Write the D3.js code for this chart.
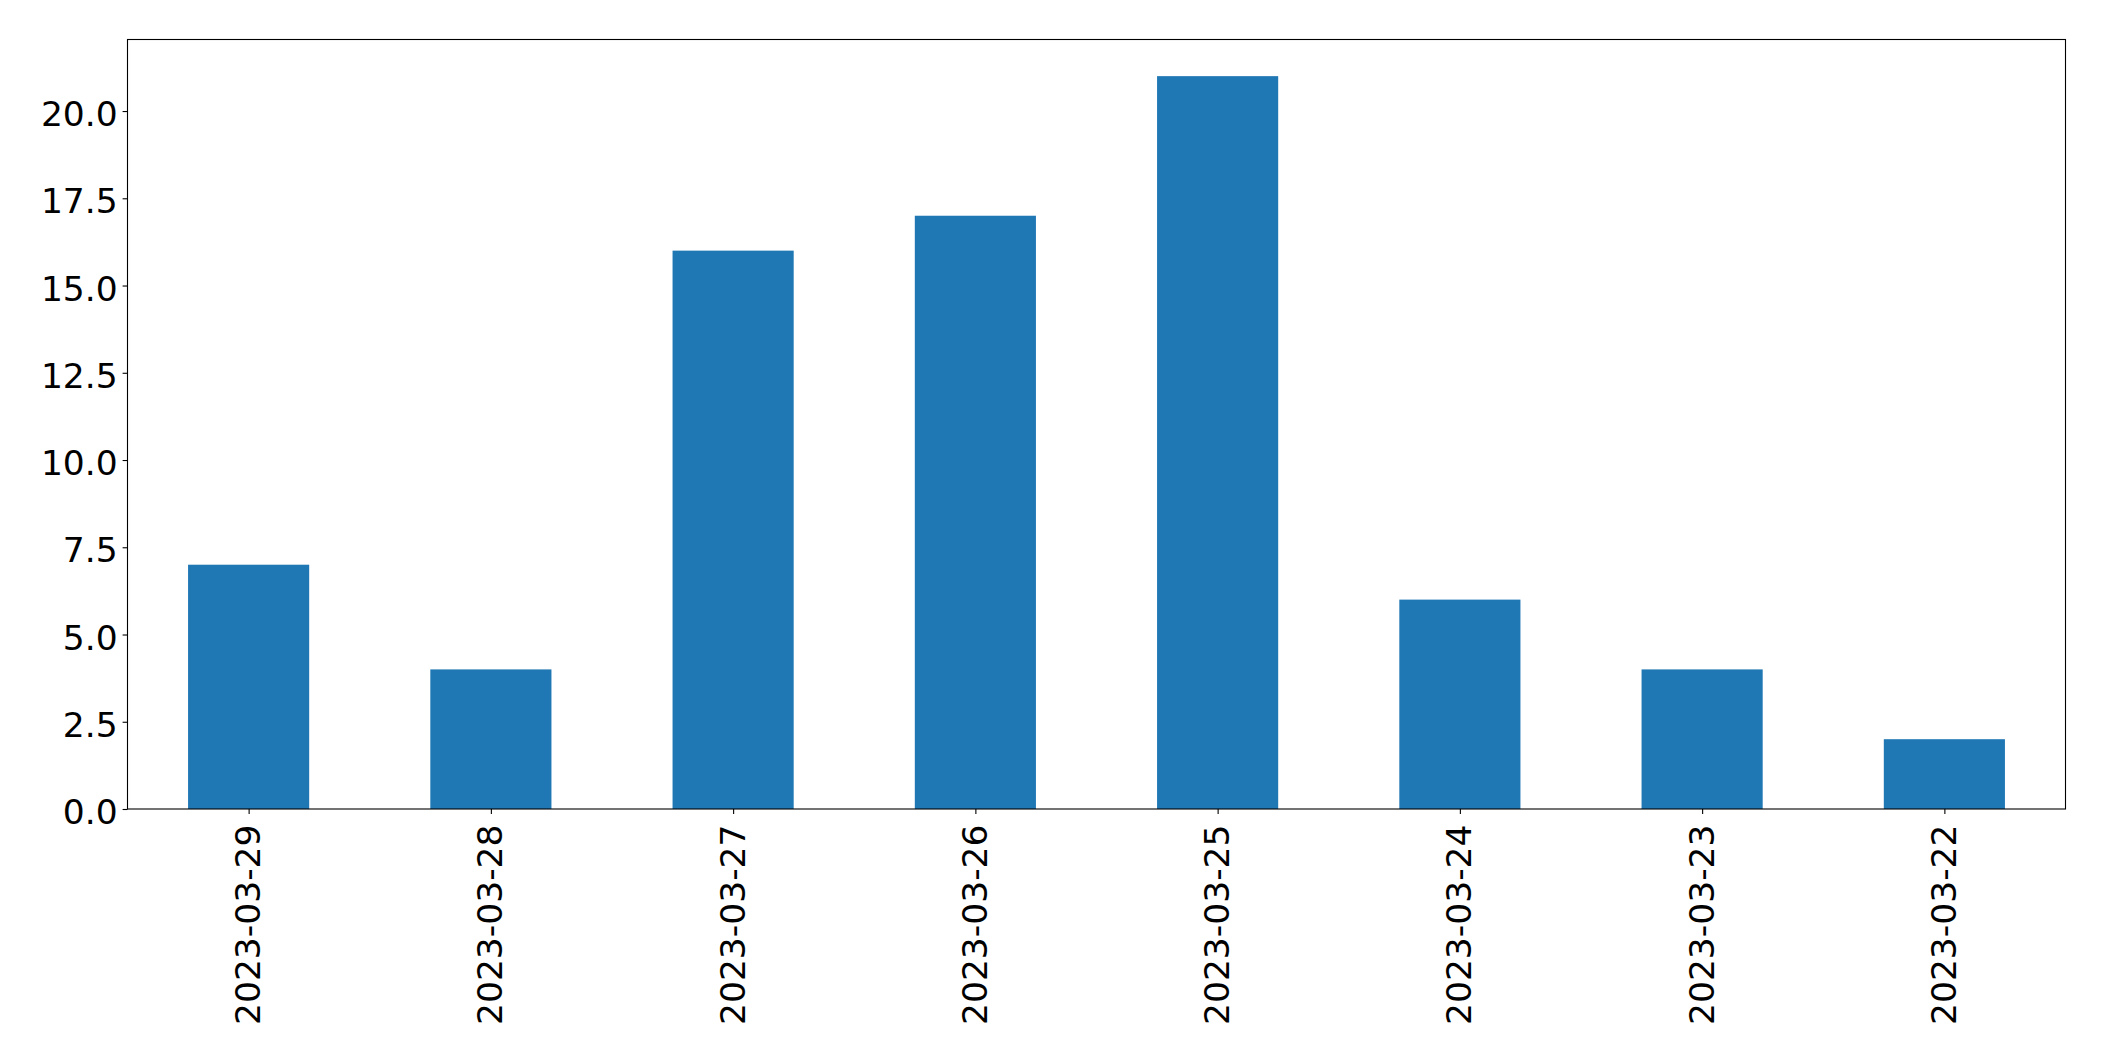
<!DOCTYPE html>
<html>
<head>
<meta charset="utf-8">
<script src="https://cdn.jsdelivr.net/npm/d3@7"></script>
<style>
  html, body { margin: 0; padding: 0; background: #fff; }
  svg { display: block; }
</style>
</head>
<body>
<svg id="chart" width="2104" height="1061"></svg>
<script>
// data
const dates  = ['2023-03-29', '2023-03-28', '2023-03-27', '2023-03-26',
                '2023-03-25', '2023-03-24', '2023-03-23', '2023-03-22'];
const counts = [7, 4, 16, 17, 21, 6, 4, 2];
const yTicks = [0, 2.5, 5, 7.5, 10, 12.5, 15, 17.5, 20];

const W = 2104, H = 1061;
const margin = { left: 127.5, right: W - 2065.5, top: 39.5, bottom: H - 809 };
const FONT = 'DejaVu Sans, sans-serif';
const FS = 34.5;

const svg = d3.select('#chart');

// pandas-style bar plot: xlim -0.5..n-0.5, bar width 0.5
const x = d3.scaleLinear()
  .domain([-0.5, dates.length - 0.5])
  .range([margin.left, W - margin.right]);

const y = d3.scaleLinear()
  .domain([0, d3.max(counts) * 1.05])
  .range([H - margin.bottom, margin.top]);

// bars
svg.append('g')
  .selectAll('rect')
  .data(counts)
  .enter().append('rect')
  .attr('x', (d, i) => x(i - 0.25))
  .attr('width', (d, i) => x(i + 0.25) - x(i - 0.25))
  .attr('y', d => y(d))
  .attr('height', d => y(0) - y(d))
  .attr('fill', '#1f77b4');

// y axis
const yAxis = svg.append('g')
  .attr('transform', `translate(${margin.left},0)`)
  .call(d3.axisLeft(y).tickValues(yTicks).tickFormat(d3.format('.1f'))
    .tickSize(4.9).tickPadding(4.9));
yAxis.select('.domain').remove();
yAxis.selectAll('text').attr('dy', '0.42em');

// x axis
const xAxis = svg.append('g')
  .attr('transform', `translate(0,${H - margin.bottom})`)
  .call(d3.axisBottom(x).tickValues(d3.range(dates.length))
    .tickFormat(i => dates[i]).tickSize(4.9).tickPadding(4.9));
xAxis.select('.domain').remove();
xAxis.selectAll('text')
  .attr('transform', 'rotate(-90)')
  .attr('dy', '0.32em')
  .attr('x', -15.5)
  .attr('y', 0)
  .style('text-anchor', 'end');

[yAxis, xAxis].forEach(a => {
  a.selectAll('line').attr('stroke', '#000').attr('stroke-width', 1.1);
  a.selectAll('text').attr('fill', '#000')
    .style('font-family', FONT).style('font-size', FS + 'px');
});

// frame
svg.append('rect')
  .attr('x', margin.left)
  .attr('y', margin.top)
  .attr('width', W - margin.left - margin.right)
  .attr('height', H - margin.top - margin.bottom)
  .attr('fill', 'none')
  .attr('stroke', '#000')
  .attr('stroke-width', 1.1);
</script>
</body>
</html>
